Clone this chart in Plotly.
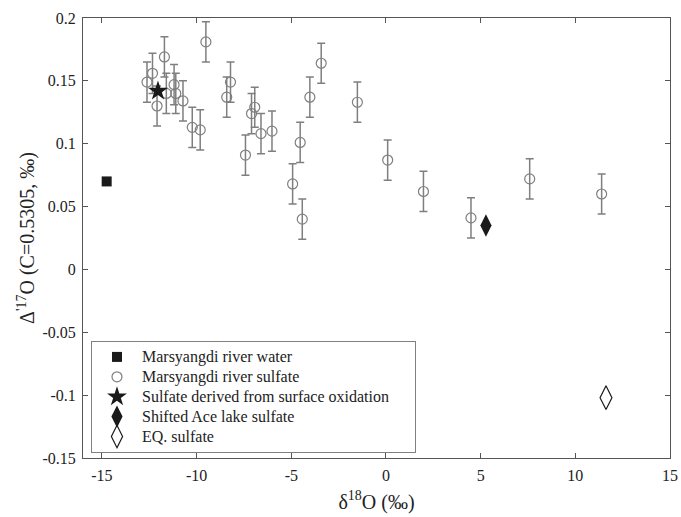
import plotly.graph_objects as go

# Marsyangdi river sulfate
sulfate_x = [-12.62, -12.33, -11.70, -12.09, -11.60, -11.19, -11.10, -10.72, -10.23, -9.81,
             -9.51, -8.41, -8.21, -7.42, -7.10, -6.93, -6.60, -6.02, -4.93, -4.53,
             -4.42, -4.02, -3.42, -1.51, 0.09, 1.98, 4.49, 7.59, 11.39]
sulfate_y = [0.149, 0.156, 0.169, 0.130, 0.140, 0.147, 0.140, 0.134, 0.113, 0.111,
             0.181, 0.137, 0.149, 0.091, 0.124, 0.129, 0.108, 0.110, 0.068, 0.101,
             0.040, 0.137, 0.164, 0.133, 0.087, 0.062, 0.041, 0.072, 0.060]
sulfate_err = [0.016, 0.016, 0.016, 0.016, 0.016, 0.016, 0.016, 0.016, 0.016, 0.016,
               0.016, 0.016, 0.016, 0.016, 0.016, 0.016, 0.016, 0.016, 0.016, 0.016,
               0.016, 0.016, 0.016, 0.016, 0.016, 0.016, 0.016, 0.016, 0.016]

water_x = [-14.75]
water_y = [0.070]
star_x = [-12.04]
star_y = [0.142]
ace_x = [5.28]
ace_y = [0.035]
eq_x = [11.62]
eq_y = [-0.102]

names = ["Marsyangdi river water", "Marsyangdi river sulfate",
         "Sulfate derived from surface oxidation", "Shifted Ace lake sulfate", "EQ. sulfate"]

x_ticks = [-15, -10, -5, 0, 5, 10, 15]
x_ticktext = ["-15", "-10", "-5", "0", "5", "10", "15"]
y_ticks = [-0.15, -0.1, -0.05, 0, 0.05, 0.1, 0.15, 0.2]
y_ticktext = ["-0.15", "-0.1", "-0.05", "0", "0.05", "0.1", "0.15", "0.2"]

SERIF = "'Liberation Serif', 'Times New Roman', 'DejaVu Serif', serif"


def lname(s, pad=0):
    return "<span style='font-size:16px'>" + s + "\u00a0" * pad + "</span>"


fig = go.Figure()
fig.add_trace(go.Scatter(
    x=water_x, y=water_y, mode="markers", name=lname(names[0]),
    marker=dict(symbol="square", size=10, color="#1a1a1a")))
fig.add_trace(go.Scatter(
    x=sulfate_x, y=sulfate_y, mode="markers", name=lname(names[1]),
    marker=dict(symbol="circle-open", size=10, color="#7f7f7f", line=dict(width=1.2)),
    error_y=dict(type="data", array=sulfate_err, visible=True, color="#7f7f7f",
                 thickness=1.5, width=4)))
fig.add_trace(go.Scatter(
    x=star_x, y=star_y, mode="markers", name=lname(names[2], 5),
    marker=dict(symbol="star", size=15, color="#1a1a1a")))
fig.add_trace(go.Scatter(
    x=ace_x, y=ace_y, mode="markers", name=lname(names[3]),
    marker=dict(symbol="diamond-tall", size=16, color="#1a1a1a")))
fig.add_trace(go.Scatter(
    x=eq_x, y=eq_y, mode="markers", name=lname(names[4]),
    marker=dict(symbol="diamond-tall-open", size=17, color="#1a1a1a", line=dict(width=1.2))))

axis_common = dict(showline=True, linecolor="#555555", linewidth=1, mirror="ticks",
                   ticks="inside", ticklen=5, tickcolor="#555555", showgrid=False,
                   zeroline=False, ticklabelstandoff=3, automargin=False,
                   tickfont=dict(family=SERIF, size=16, color="#222222"))

fig.update_layout(
    width=681, height=517,
    margin=dict(l=83, r=11, t=18, b=59),
    paper_bgcolor="white", plot_bgcolor="white",
    font=dict(family=SERIF, size=16, color="#222222"),
    xaxis=dict(range=[-16, 15], tickvals=x_ticks, ticktext=x_ticktext,
               title=dict(text="δ<sup>18</sup>O (‰)", font=dict(family=SERIF, size=20), standoff=11),
               **axis_common),
    yaxis=dict(range=[-0.15, 0.2], tickvals=y_ticks, ticktext=y_ticktext,
               title=dict(text="Δ<sup>'17</sup>O (C=0.5305, ‰)", font=dict(family=SERIF, size=20), standoff=2),
               **axis_common),
    legend=dict(x=0.0136, y=0.266, xanchor="left", yanchor="top",
                bordercolor="#808080", borderwidth=1, bgcolor="white",
                font=dict(family=SERIF, size=13, color="#222222"),
                itemwidth=40),
    showlegend=True,
)

fig.write_html(
    "out.html",
    config={"displayModeBar": False},
    post_script="document.body.style.margin='0px';document.documentElement.style.overflow='hidden';document.body.style.overflow='hidden';",
)
